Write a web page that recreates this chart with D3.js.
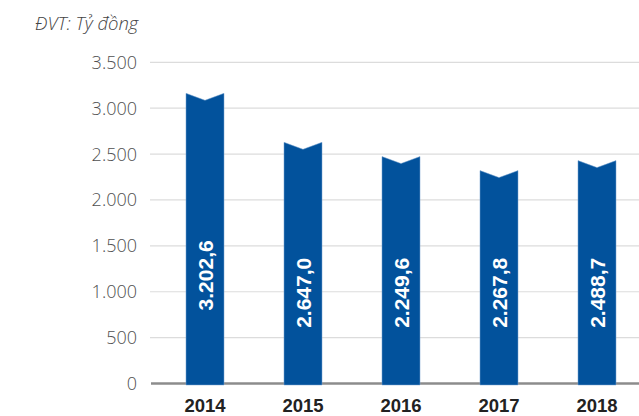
<!DOCTYPE html>
<html>
<head>
<meta charset="utf-8">
<script src="https://cdn.jsdelivr.net/npm/d3@7"></script>
<style>
    body { margin:0; background:#fff; }
    svg { display:block; }
</style>
</head>
<body>
<div id="chart"></div>
<script>
// values, labels as printed on the bars
const years = ['2014', '2015', '2016', '2017', '2018'];
const barValues = [3162, 2628, 2473, 2320, 2429];
const barLabels = ['3.202,6', '2.647,0', '2.249,6', '2.267,8', '2.488,7'];
const yTicks = [0, 500, 1000, 1500, 2000, 2500, 3000, 3500];
const unitLabel = 'ĐVT: Tỷ đồng';

const width = 639, height = 416;
const barColor = '#02529c';

const fmt = d3.formatLocale({decimal:',', thousands:'.', grouping:[3], currency:['','']}).format(',');

const svg = d3.select('#chart').append('svg')
    .attr('width', width)
    .attr('height', height);

const x = d3.scaleBand()
    .domain(years)
    .range([156, 646])
    .paddingInner(0.612)
    .paddingOuter(0.306);

const y = d3.scaleLinear()
    .domain([0, 3500])
    .range([383.5, 62.3]);

// grid lines + tick labels
const grid = svg.append('g').attr('class', 'grid');
grid.selectAll('line')
    .data(yTicks.filter(d=>d>0))
    .enter()
    .append('line')
    .attr('x1', 150)
    .attr('x2', width)
    .attr('y1', d=>y(d))
    .attr('y2', d=>y(d))
    .attr('stroke', '#dcdcdc')
    .attr('stroke-width', 1.2);

grid.selectAll('text')
    .data(yTicks)
    .enter()
    .append('text')
    .attr('x', 137)
    .attr('y', d=>y(d))
    .attr('dy', '0.36em')
    .attr('text-anchor', 'end')
    .attr('font-family', '"Open Sans", "Noto Sans", sans-serif')
    .attr('font-weight', 300)
    .attr('font-size', 18)
    .attr('fill', '#505050')
    .text(d=>fmt(d));

// baseline
svg.append('line')
    .attr('x1', 151)
    .attr('x2', width)
    .attr('y1', y(0))
    .attr('y2', y(0))
    .attr('stroke', '#8c8c8c')
    .attr('stroke-width', 2.6);

// bars with a notched top
const notch = 7;
const barPath = (d, i) => {
    const x0 = x(years[i]), x1 = x0 + x.bandwidth(), xc = x0 + x.bandwidth()/2;
    const top = y(d), bottom = y(0) + 1.5;
    return `M${x0},${bottom}L${x0},${top}L${xc},${top+notch}L${x1},${top}L${x1},${bottom}Z`;
};

svg.append('g').selectAll('path')
    .data(barValues)
    .enter()
    .append('path')
    .attr('d', barPath)
    .attr('fill', barColor)
    .attr('stroke', '#7da6d3')
    .attr('stroke-width', 0.5);

// value labels, rotated, reading bottom to top
svg.append('g').selectAll('text')
    .data(barValues)
    .enter()
    .append('text')
    .attr('transform', (d, i)=>{
        const cx = x(years[i]) + x.bandwidth()/2;
        const top = Math.min(y(d) + 147, y(1370));
        return `translate(${cx},${top}) rotate(-90)`;
    })
    .attr('dy', '0.36em')
    .attr('text-anchor', 'end')
    .attr('font-family', '"Liberation Sans", Arial, sans-serif')
    .attr('font-weight', 'bold')
    .attr('font-size', 21)
    .attr('fill', '#fff')
    .text((d, i)=>barLabels[i]);

// year labels
svg.append('g').selectAll('text')
    .data(years)
    .enter()
    .append('text')
    .attr('x', d=>x(d) + x.bandwidth()/2)
    .attr('y', 411.5)
    .attr('text-anchor', 'middle')
    .attr('font-family', '"Liberation Sans Narrow", "Liberation Sans", sans-serif')
    .attr('font-weight', 'bold')
    .attr('font-size', 18.5)
    .attr('fill', '#222')
    .text(d=>d);

// unit
svg.append('text')
    .attr('x', 35)
    .attr('y', 30)
    .attr('font-family', '"Open Sans", "Noto Sans", sans-serif')
    .attr('font-style', 'italic')
    .attr('font-weight', 300)
    .attr('font-size', 18.5)
    .attr('fill', '#444')
    .text(unitLabel);
</script>
</body>
</html>
